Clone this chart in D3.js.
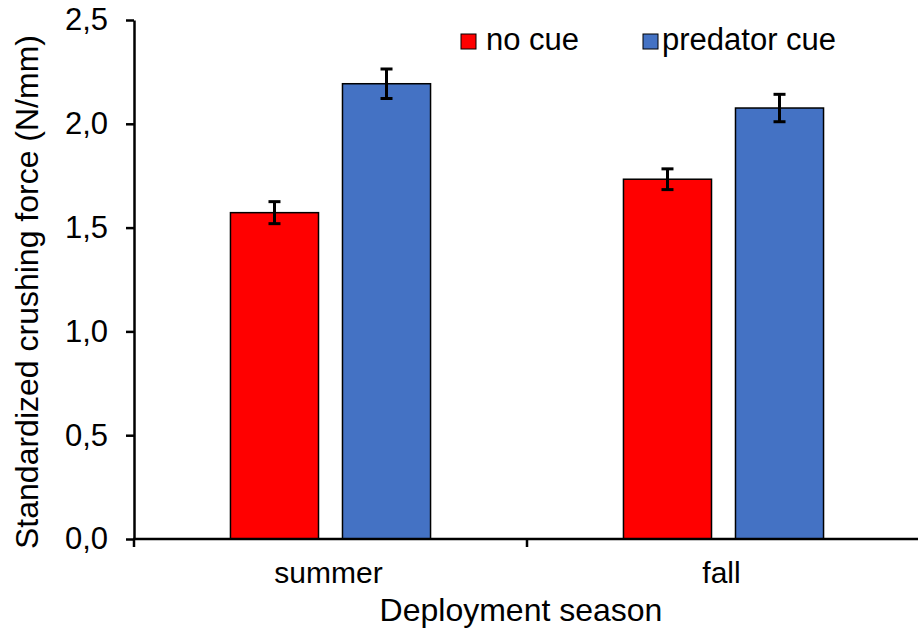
<!DOCTYPE html>
<html>
<head>
<meta charset="utf-8">
<script src="https://cdn.jsdelivr.net/npm/d3@7"></script>
<style>
  body { margin: 0; background: #fff; }
  text { font-family: Arial, "Liberation Sans", sans-serif; fill: #000; }
</style>
</head>
<body>
<svg class="chart" width="918" height="628"></svg>
<script>
// data
const seasons = ['summer', 'fall'];
const treatments = ['no cue', 'predator cue'];
const colors = ['#ff0000', '#4472c4'];
const noCue = [1.572, 1.733];
const noCueErr = [0.053, 0.050];
const predatorCue = [2.193, 2.076];
const predatorCueErr = [0.071, 0.066];
const yTicks = [0, 0.5, 1.0, 1.5, 2.0, 2.5];

const width = 918;
const height = 628;
const margin = {top: 20, right: 0, bottom: 89, left: 134};

const svg = d3.select('svg.chart');

const x = d3.scaleBand()
  .domain(seasons)
  .range([margin.left, width + 2]);

const xInner = d3.scaleBand()
  .domain(treatments)
  .range([0, x.bandwidth()])
  .paddingInner(0.214)
  .paddingOuter(0.861);

const y = d3.scaleLinear()
  .domain([0, 2.5])
  .range([height - margin.bottom, margin.top]);

const rows = seasons.map((s, i) => ({
  season: s,
  vals: [
    {t: treatments[0], v: noCue[i], e: noCueErr[i], c: colors[0]},
    {t: treatments[1], v: predatorCue[i], e: predatorCueErr[i], c: colors[1]}
  ]
}));

const groups = svg.selectAll('g.season')
  .data(rows)
  .enter()
  .append('g')
  .attr('class', 'season')
  .attr('transform', d => 'translate(' + x(d.season) + ',0)');

groups.selectAll('rect')
  .data(d => d.vals)
  .enter()
  .append('rect')
  .attr('x', d => xInner(d.t))
  .attr('y', d => y(d.v))
  .attr('width', xInner.bandwidth())
  .attr('height', d => y(0) - y(d.v))
  .style('fill', d => d.c)
  .style('stroke', '#000')
  .style('stroke-width', 1.5);

// error bars
const err = groups.selectAll('g.err')
  .data(d => d.vals)
  .enter()
  .append('g')
  .attr('class', 'err')
  .style('stroke', '#000')
  .style('stroke-width', 3);

err.append('line')
  .attr('x1', d => xInner(d.t) + xInner.bandwidth() / 2)
  .attr('x2', d => xInner(d.t) + xInner.bandwidth() / 2)
  .attr('y1', d => y(d.v + d.e))
  .attr('y2', d => y(d.v - d.e));

[1, -1].forEach(s => {
  err.append('line')
    .attr('x1', d => xInner(d.t) + xInner.bandwidth() / 2 - 6)
    .attr('x2', d => xInner(d.t) + xInner.bandwidth() / 2 + 6)
    .attr('y1', d => y(d.v + s * d.e))
    .attr('y2', d => y(d.v + s * d.e));
});

// y axis
const yAxis = svg.append('g')
  .attr('transform', 'translate(' + margin.left + ',0)')
  .call(d3.axisLeft(y)
    .tickValues(yTicks)
    .tickSize(8)
    .tickPadding(18)
    .tickSizeOuter(0)
    .tickFormat(d => d3.format('.1f')(d).replace('.', ',')));
yAxis.select('.domain').style('stroke-width', 2.5);
yAxis.selectAll('.tick line').style('stroke-width', 2.5);
yAxis.selectAll('text').style('font-size', '31px').style('font-family', 'Arial, "Liberation Sans", sans-serif');

// x axis with boundary ticks
const xAxisG = svg.append('g')
  .attr('transform', 'translate(0,' + y(0) + ')');
xAxisG.append('line')
  .attr('x1', margin.left - 1)
  .attr('x2', width)
  .style('stroke', '#000')
  .style('stroke-width', 2.5);
xAxisG.selectAll('line.bt')
  .data(seasons)
  .enter()
  .append('line')
  .attr('class', 'bt')
  .attr('x1', d => x(d))
  .attr('x2', d => x(d))
  .attr('y1', 0)
  .attr('y2', 8)
  .style('stroke', '#000')
  .style('stroke-width', 2.5);
xAxisG.selectAll('text')
  .data(seasons)
  .enter()
  .append('text')
  .attr('x', d => x(d) + x.bandwidth() / 2 - 2)
  .attr('y', 44)
  .attr('text-anchor', 'middle')
  .style('font-size', '30px')
  .text(d => d);

// axis titles
svg.append('text')
  .attr('x', 521)
  .attr('y', 621)
  .attr('text-anchor', 'middle')
  .style('font-size', '32px')
  .text('Deployment season');

svg.append('text')
  .attr('transform', 'translate(38,292) rotate(-90)')
  .attr('text-anchor', 'middle')
  .style('font-size', '32px')
  .text('Standardized crushing force (N/mm)');

// legend
const legendX = [461, 643];
const legendGap = [25, 19];
const legend = svg.selectAll('g.legend')
  .data(treatments)
  .enter()
  .append('g')
  .attr('class', 'legend')
  .attr('transform', (d, i) => 'translate(' + legendX[i] + ',34)');
legend.append('rect')
  .attr('width', 15)
  .attr('height', 15)
  .style('fill', (d, i) => colors[i])
  .style('stroke', '#000')
  .style('stroke-width', 1);
legend.append('text')
  .attr('x', (d, i) => legendGap[i])
  .attr('y', 16)
  .style('font-size', '31px')
  .text(d => d);
</script>
</body>
</html>
